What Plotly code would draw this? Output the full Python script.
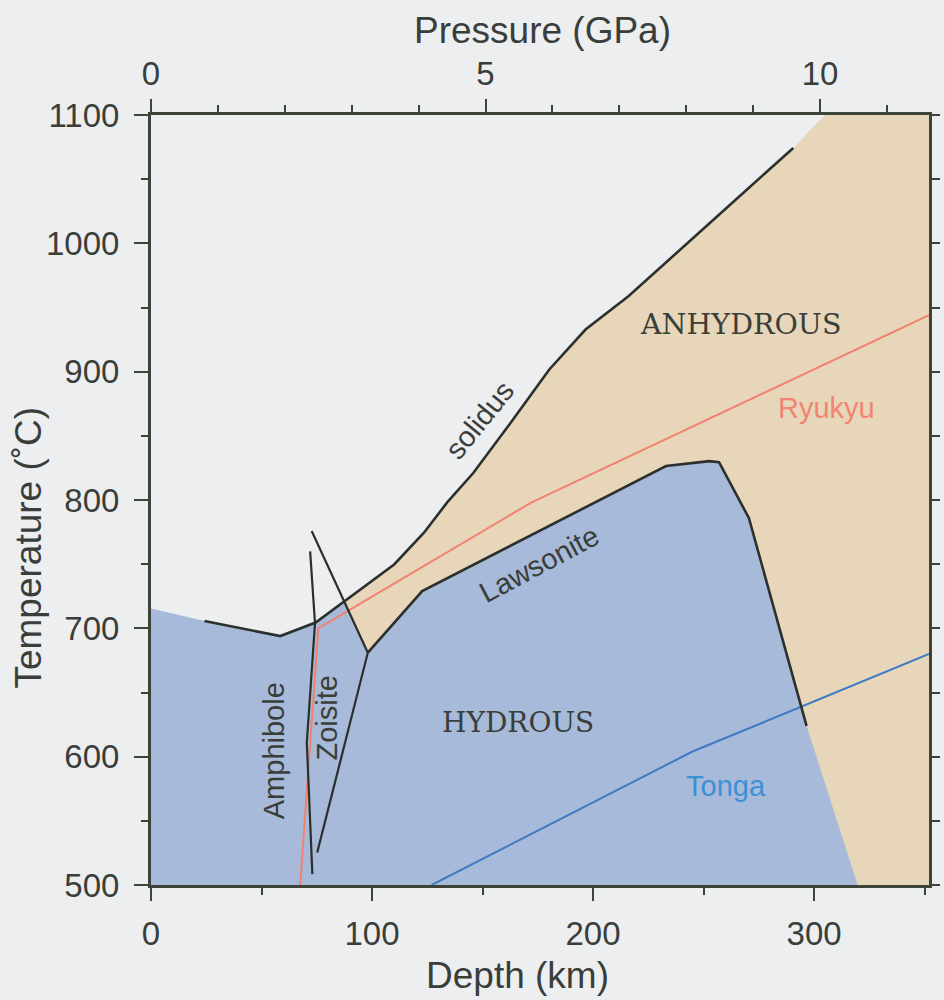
import plotly.graph_objects as go

# ---- data (depth km, temperature C) ----
solidus_d = [24.2, 58.5, 74.5, 87.6, 110.0, 123.5, 133.9, 145.9, 163.8, 180.2, 196.6, 216.0, 290.6]
solidus_t = [705.7, 694.0, 704.5, 721.3, 749.8, 774.5, 797.9, 821.2, 862.7, 901.7, 932.8, 958.8, 1074.3]

lawsonite_d = [98.1, 122.7, 233.0, 252.6, 257.0, 270.5, 296.6]
lawsonite_t = [681.0, 729.0, 826.5, 830.3, 829.5, 786.0, 624.0]

zoisite_d = [72.7, 98.1, 75.2]
zoisite_t = [775.8, 681.0, 525.3]

amphibole_d = [72.0, 74.2, 70.5, 73.0]
amphibole_t = [760.0, 704.0, 611.0, 508.5]

ryukyu_d = [67.5, 75.7, 172.0, 352.0]
ryukyu_t = [500.0, 700.0, 798.0, 944.0]

tonga_d = [127.0, 245.0, 352.0]
tonga_t = [500.0, 604.0, 680.0]

# region boundaries
hydrous_d = [0.0, 24.2, 58.5, 74.5, 87.5, 98.1, 122.7, 233.0, 252.6, 257.0, 270.5, 296.6, 319.7, 0.0]
hydrous_t = [715.5, 705.7, 694.0, 704.5, 720.5, 681.0, 729.0, 826.5, 830.3, 829.5, 786.0, 624.0, 500.0, 500.0]

anhydrous_d = [87.5, 110.0, 123.5, 133.9, 145.9, 163.8, 180.2, 196.6, 216.0, 290.6, 304.8, 352.0, 352.0, 87.5]
anhydrous_t = [720.5, 749.8, 774.5, 797.9, 821.2, 862.7, 901.7, 932.8, 958.8, 1074.3, 1100.0, 1100.0, 500.0, 500.0]

depth_range = [0, 352]
temp_range = [500, 1100]
km_per_gpa = 30.27
pressure_ticks = [0, 5, 10]
depth_ticks = [0, 100, 200, 300]
temp_ticks = [500, 600, 700, 800, 900, 1000, 1100]

PAPER = "#edeef0"
BLUE = "#a7bad9"
TAN = "#e7d6b9"
LINE = "#2c302c"
TXT = "#3a3e3a"
AX = "#3c4438"
SANS = "Liberation Sans, Arial"

fig = go.Figure()
fig.add_trace(go.Scatter(x=anhydrous_d, y=anhydrous_t, fill="toself", fillcolor=TAN,
                         mode="none", hoverinfo="skip", showlegend=False))
fig.add_trace(go.Scatter(x=hydrous_d, y=hydrous_t, fill="toself", fillcolor=BLUE,
                         mode="none", hoverinfo="skip", showlegend=False))

def line(x, y, color, width):
    fig.add_trace(go.Scatter(x=x, y=y, mode="lines", line=dict(color=color, width=width),
                             showlegend=False, hoverinfo="skip"))

line(ryukyu_d, ryukyu_t, "#f2826f", 2)
line(tonga_d, tonga_t, "#3e7ac6", 2)
line(solidus_d, solidus_t, LINE, 2.6)
line(lawsonite_d, lawsonite_t, LINE, 2.6)
line(zoisite_d, zoisite_t, LINE, 2.2)
line(amphibole_d, amphibole_t, LINE, 2.2)

# dummy traces to activate the secondary axes
fig.add_trace(go.Scatter(x=[0], y=[500], xaxis="x2", yaxis="y", mode="markers",
                         marker=dict(opacity=0), showlegend=False, hoverinfo="skip"))
fig.add_trace(go.Scatter(x=[0], y=[500], xaxis="x", yaxis="y2", mode="markers",
                         marker=dict(opacity=0), showlegend=False, hoverinfo="skip"))

ann = [
    dict(x=55.8, y=604.5, text="Amphibole", textangle=-90, font=dict(size=29, color=TXT, family=SANS)),
    dict(x=79.7, y=629.8, text="Zoisite", textangle=-90, font=dict(size=29, color=TXT, family=SANS)),
    dict(x=148.5, y=862.7, text="solidus", textangle=-51, font=dict(size=29, color=TXT, family=SANS)),
    dict(x=175.7, y=749.8, text="Lawsonite", textangle=-28, font=dict(size=29, color=TXT, family=SANS)),
    dict(x=166.0, y=627.0, text="HYDROUS", font=dict(size=28, color=TXT, family="DejaVu Serif")),
    dict(x=266.8, y=936.7, text="ANHYDROUS", font=dict(size=28.5, color=TXT, family="DejaVu Serif")),
    dict(x=305.4, y=872.0, text="Ryukyu", font=dict(size=29, color="#f08672", family=SANS)),
    dict(x=260.0, y=577.0, text="Tonga", font=dict(size=29, color="#3d8fd6", family=SANS)),
]
for a in ann:
    a.update(xref="x", yref="y", showarrow=False)

titlefont = dict(family=SANS, size=37, color=TXT)
ann += [
    dict(x=177, y=1.110, xref="x", yref="paper", text="Pressure (GPa)", showarrow=False,
         font=titlefont, xanchor="center", yanchor="middle"),
    dict(x=166, y=-0.117, xref="x", yref="paper", text="Depth (km)", showarrow=False,
         font=titlefont, xanchor="center", yanchor="middle"),
    dict(x=-0.158, y=763, xref="paper", yref="y", text="Temperature (˚C)", showarrow=False,
         textangle=-90, font=titlefont, xanchor="center", yanchor="middle"),
]

axfont = dict(family=SANS, size=33, color=TXT)

fig.update_layout(
    width=944, height=1000,
    margin=dict(l=151, r=7, t=115, b=115),
    paper_bgcolor=PAPER, plot_bgcolor=PAPER,
    annotations=ann,
    xaxis=dict(range=depth_range, tickvals=depth_ticks, ticks="outside", ticklen=13, tickwidth=2,
               tickcolor=AX, showline=True, linecolor=AX, linewidth=3, showgrid=False, zeroline=False,
               minor=dict(dtick=50, ticks="outside", ticklen=7, tickwidth=2, tickcolor=AX),
               tickfont=axfont, ticklabelstandoff=4),
    xaxis2=dict(range=[depth_range[0] / km_per_gpa, depth_range[1] / km_per_gpa], overlaying="x", side="top",
                tickvals=pressure_ticks, ticks="outside", ticklen=13, tickwidth=2, tickcolor=AX,
                showline=True, linecolor=AX, linewidth=3, showgrid=False, zeroline=False,
                minor=dict(dtick=1, ticks="outside", ticklen=7, tickwidth=2, tickcolor=AX),
                tickfont=axfont, ticklabelstandoff=1),
    yaxis=dict(range=temp_range, tickvals=temp_ticks, ticks="outside", ticklen=14, tickwidth=2,
               tickcolor=AX, showline=True, linecolor=AX, linewidth=3, showgrid=False, zeroline=False,
               minor=dict(dtick=50, ticks="outside", ticklen=7, tickwidth=2, tickcolor=AX),
               tickfont=axfont, ticklabelstandoff=8),
    yaxis2=dict(range=temp_range, overlaying="y", side="right", dtick=50, tick0=500, ticks="outside",
                ticklen=8, tickwidth=2, tickcolor=AX, showticklabels=False, showline=True,
                linecolor=AX, linewidth=3, showgrid=False, zeroline=False),
)

fig.write_html("out.html")
